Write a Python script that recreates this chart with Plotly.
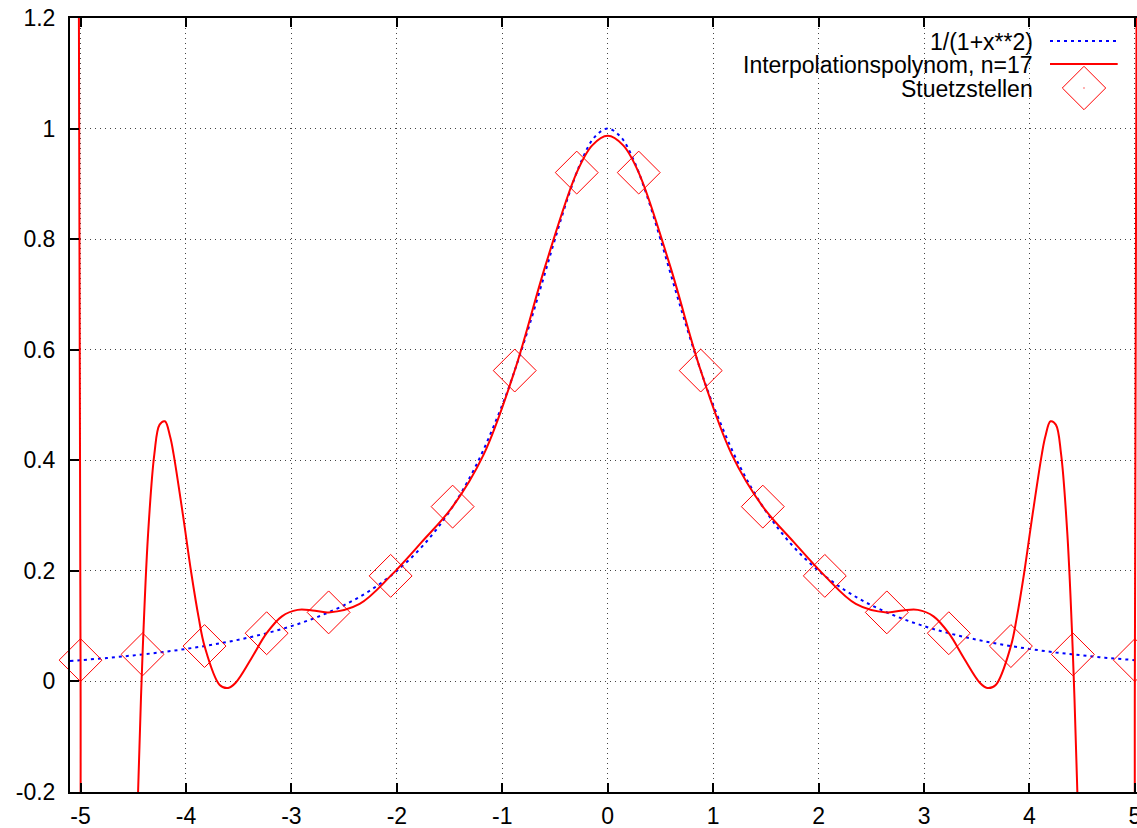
import plotly.graph_objects as go

# ---------------- data ----------------
# Runge function 1/(1+x**2)
x_f = [-5.1, -5.0, -4.75, -4.5, -4.25, -4.0, -3.75, -3.5, -3.25, -3.0, -2.75, -2.5,
       -2.25, -2.0, -1.75, -1.5, -1.25, -1.0, -0.875, -0.75, -0.625, -0.5, -0.375,
       -0.25, -0.125, 0.0, 0.125, 0.25, 0.375, 0.5, 0.625, 0.75, 0.875, 1.0, 1.25,
       1.5, 1.75, 2.0, 2.25, 2.5, 2.75, 3.0, 3.25, 3.5, 3.75, 4.0, 4.25, 4.5, 4.75,
       5.0, 5.1]
y_f = [0.0370, 0.0385, 0.0424, 0.0471, 0.0524, 0.0588, 0.0664, 0.0755, 0.0865, 0.1000,
       0.1168, 0.1379, 0.1649, 0.2000, 0.2462, 0.3077, 0.3902, 0.5000, 0.5664, 0.6400,
       0.7191, 0.8000, 0.8767, 0.9412, 0.9846, 1.0000, 0.9846, 0.9412, 0.8767, 0.8000,
       0.7191, 0.6400, 0.5664, 0.5000, 0.3902, 0.3077, 0.2462, 0.2000, 0.1649, 0.1379,
       0.1168, 0.1000, 0.0865, 0.0755, 0.0664, 0.0588, 0.0524, 0.0471, 0.0424, 0.0385,
       0.0370]

# Interpolation polynomial, n=17
x_p = [-5.1, -5.05, -5.02, -5.0, -4.98, -4.706, -4.55, -4.47, -4.45, -4.412, -4.36,
       -4.3, -4.25, -4.2, -4.15, -4.118, -4.03, -3.95, -3.88, -3.824, -3.68, -3.6,
       -3.529, -3.38, -3.235, -3.09, -2.941, -2.8, -2.647, -2.353, -2.059, -1.765,
       -1.471, -1.176, -0.882, -0.588, -0.294, -0.147, 0.0,
       0.147, 0.294, 0.588, 0.882, 1.176, 1.471, 1.765, 2.059, 2.353, 2.647, 2.8,
       2.941, 3.09, 3.235, 3.38, 3.529, 3.6, 3.68, 3.824, 3.88, 3.95, 4.03, 4.118,
       4.15, 4.2, 4.25, 4.3, 4.36, 4.412, 4.45, 4.47, 4.55, 4.706, 4.98, 5.0, 5.02,
       5.05, 5.1]
y_p = [9.0, 4.1, 1.547, 0.0385, -1.174, -2.995, -1.028, -0.3115, -0.1729, 0.0489,
       0.2650, 0.4113, 0.4646, 0.4705, 0.4424, 0.4117, 0.3026, 0.1966, 0.1158, 0.0640,
       -0.0064, -0.0119, -0.0023, 0.0415, 0.0872, 0.1177, 0.1294, 0.1285, 0.1249,
       0.1403, 0.1909, 0.2519, 0.3162, 0.4108, 0.5623, 0.7539, 0.9204, 0.9696, 0.9868,
       0.9696, 0.9204, 0.7539, 0.5623, 0.4108, 0.3162, 0.2519, 0.1909, 0.1403, 0.1249,
       0.1285, 0.1294, 0.1177, 0.0872, 0.0415, -0.0023, -0.0119, -0.0064, 0.0640,
       0.1158, 0.1966, 0.3026, 0.4117, 0.4424, 0.4705, 0.4646, 0.4113, 0.2650, 0.0489,
       -0.1729, -0.3115, -1.028, -2.995, -1.174, 0.0385, 1.547, 4.1, 9.0]

# Stuetzstellen (interpolation nodes)
x_s = [-5.0, -4.412, -3.824, -3.235, -2.647, -2.059, -1.471, -0.882, -0.294,
       0.294, 0.882, 1.471, 2.059, 2.647, 3.235, 3.824, 4.412, 5.0]
y_s = [0.0385, 0.0489, 0.0640, 0.0872, 0.1249, 0.1909, 0.3162, 0.5623, 0.9204,
       0.9204, 0.5623, 0.3162, 0.1909, 0.1249, 0.0872, 0.0640, 0.0489, 0.0385]

x_ticks = [-5, -4, -3, -2, -1, 0, 1, 2, 3, 4, 5]
x_ticklabels = ["-5", "-4", "-3", "-2", "-1", "0", "1", "2", "3", "4", "5"]
y_ticks = [-0.2, 0, 0.2, 0.4, 0.6, 0.8, 1.0, 1.2]
y_ticklabels = ["-0.2", "0", "0.2", "0.4", "0.6", "0.8", "1", "1.2"]

legend_labels = ["1/(1+x**2)", "Interpolationspolynom, n=17", "Stuetzstellen"]

# ---------------- figure ----------------
FONT = "Liberation Sans, Arial, Helvetica, sans-serif"
FS = 23
RED = "#ff0000"
BLUE = "#0000ff"

fig = go.Figure()
fig.add_trace(go.Scatter(x=x_f, y=y_f, mode="lines", name=legend_labels[0],
                         line=dict(color=BLUE, width=2, dash="3px,4px", shape="spline"),
                         showlegend=False))
fig.add_trace(go.Scatter(x=x_p, y=y_p, mode="lines", name=legend_labels[1],
                         line=dict(color=RED, width=2, shape="spline"),
                         showlegend=False))
fig.add_trace(go.Scatter(x=x_s, y=y_s, mode="markers", name=legend_labels[2],
                         marker=dict(symbol="diamond", size=33, color="rgba(0,0,0,0)",
                                     line=dict(width=1, color=RED)),
                         cliponaxis=False, showlegend=False))

W, H = 1137, 828
ML, MR, MT, MB = 70, 0, 18, 36
pw, ph = W - ML - MR, H - MT - MB


def px(xp):
    return (xp - ML) / pw


def py(yp):
    return (H - MB - yp) / ph


# manual gnuplot-style legend (text right-aligned, sample on the right)
text_right = 1035
rows_text = [42, 65.3, 88.6]
rows_sample = [41, 64, 88]
for lab, ry in zip(legend_labels, rows_text):
    fig.add_annotation(x=px(text_right), y=py(ry), xref="paper", yref="paper",
                       text=lab, showarrow=False, xanchor="right", yanchor="middle",
                       font=dict(family=FONT, size=FS, color="black"))

sx0, sx1 = px(1050), px(1117.7)
fig.add_shape(type="line", xref="paper", yref="paper", x0=sx0, x1=sx1,
              y0=py(rows_sample[0]), y1=py(rows_sample[0]),
              line=dict(color=BLUE, width=2, dash="3px,4px"))
fig.add_shape(type="line", xref="paper", yref="paper", x0=sx0, x1=sx1,
              y0=py(rows_sample[1]), y1=py(rows_sample[1]),
              line=dict(color=RED, width=2))
cx, cy = 1084, rows_sample[2]
hd = 21.7
path = (f"M {px(cx - hd)},{py(cy)} L {px(cx)},{py(cy + hd)} "
        f"L {px(cx + hd)},{py(cy)} L {px(cx)},{py(cy - hd)} Z")
fig.add_shape(type="path", xref="paper", yref="paper", path=path,
              line=dict(color=RED, width=1))
fig.add_shape(type="rect", xref="paper", yref="paper",
              x0=px(cx - 0.6), x1=px(cx + 0.6), y0=py(cy + 0.6), y1=py(cy - 0.6),
              line=dict(width=0), fillcolor=RED)

axis_common = dict(
    showline=True, linecolor="black", linewidth=2,
    ticks="inside", ticklen=9, tickwidth=1.5, tickcolor="black",
    showgrid=True, gridcolor="#444444", gridwidth=1, griddash="1px,4px",
    zeroline=False, automargin=False,
    tickfont=dict(family=FONT, size=FS, color="black"),
)

fig.update_xaxes(range=[-5.1, 5.02], tickmode="array", tickvals=x_ticks,
                 ticktext=x_ticklabels, mirror="ticks", ticklabelstandoff=2,
                 ticklabeloverflow="allow", **axis_common)
fig.update_yaxes(range=[-0.2, 1.2], tickmode="array", tickvals=y_ticks,
                 ticktext=y_ticklabels, mirror=False, ticklabelstandoff=8,
                 **axis_common)

fig.update_layout(
    width=W, height=H,
    margin=dict(l=ML, r=MR, t=MT, b=MB, pad=0, autoexpand=False),
    paper_bgcolor="white", plot_bgcolor="white",
    font=dict(family=FONT, size=FS, color="black"),
    showlegend=False,
)

fig.write_html("out.html",
               config={"displayModeBar": False},
               post_script="document.body.style.margin='0px';"
                           "document.body.style.overflow='hidden';")
